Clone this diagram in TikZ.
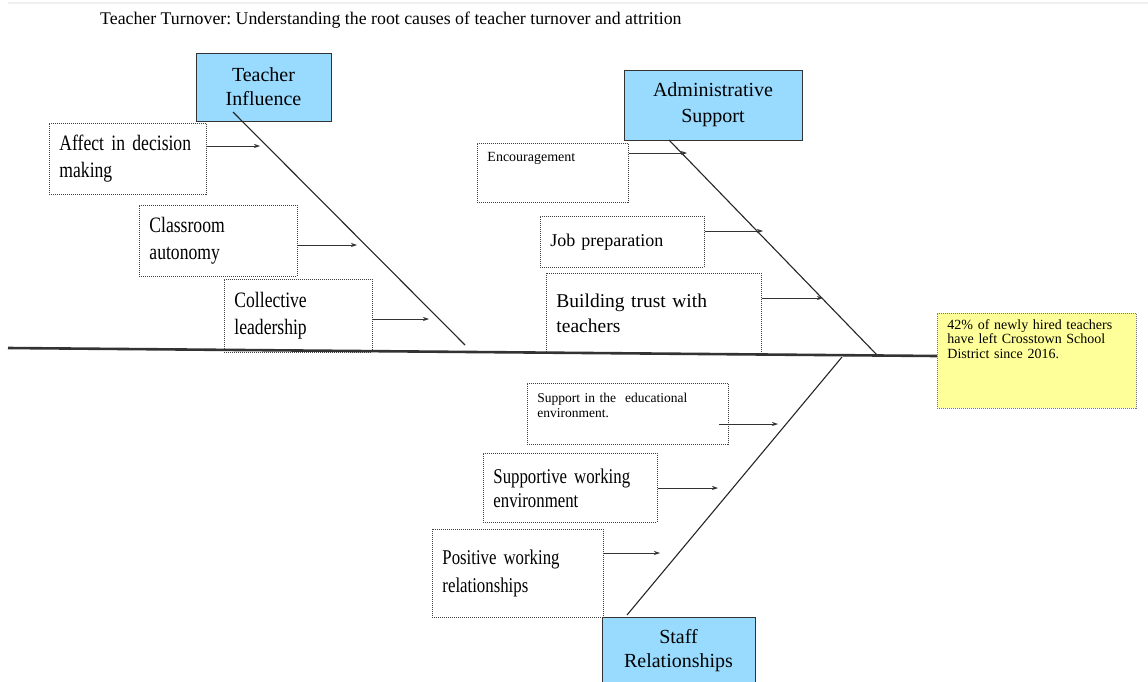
\documentclass[tikz,border=0pt]{standalone}
\usepackage{fontspec}
\setmainfont{Liberation Serif}
\newfontfamily\narrowserif[FakeStretch=0.8]{Liberation Serif}
\usepackage{xcolor}
\usetikzlibrary{arrows.meta}
\definecolor{headblue}{RGB}{153,219,255}
\definecolor{effectyellow}{RGB}{255,255,153}
\tikzset{>={Stealth[length=6pt,width=4pt]}}
\frenchspacing

\begin{document}
\begin{tikzpicture}[x=1pt,y=-1pt,
                    headbox/.style={draw=black!80, fill=headblue, line width=1pt, align=center, inner sep=0pt},
                    causebox/.style={draw=black!75, dash pattern=on 1pt off 1pt, line width=0.9pt, align=left,
                                     inner xsep=10pt, inner ysep=4pt, anchor=north west},
                    bigcause/.style={font=\narrowserif\fontsize{22}{27}\selectfont},
                    bone/.style={line width=1.1pt, black!85},
                    spine/.style={line width=2.6pt, black!80},
                    cause/.style={->, line width=0.7pt, black!80},
                   ]

\fill[white] (0,0) rectangle (1148,681);
\useasboundingbox (0,0) rectangle (1148,681);
\clip (0,0) rectangle (1148,681);
\draw[black!6, line width=1.5pt] (8,3) -- (1148,3);

\node[anchor=base west, inner sep=0pt, font=\fontsize{17.8}{20}\selectfont] (title) at (100,24)
  {Teacher Turnover: Understanding the root causes of teacher turnover and attrition};

% heads of the bones
\node[headbox, minimum width=135, minimum height=68, font=\fontsize{20}{24}\selectfont] (ti) at (263.5,87) {Teacher\\Influence};
\node[headbox, minimum width=178, minimum height=70, font=\fontsize{20}{26}\selectfont] (as) at (713,105) {Administrative\\Support};
\node[headbox, minimum width=153, minimum height=68, font=\fontsize{20}{24}\selectfont] (sr) at (678.5,651) {Staff\\Relationships};

% the problem
\node[causebox, fill=effectyellow, draw=black!55, text width=179, text height=12, text depth=75,
      font=\fontsize{14}{14.5}\selectfont] (effect) at (937,313)
  {42\% of newly hired teachers\\have left Crosstown School\\District since 2016.};

% causes
\node[causebox, bigcause, text width=137, minimum height=71] (aff) at (49,123) {Affect in decision\\making};
\node[causebox, bigcause, text width=138, minimum height=71] (cls) at (139,205) {Classroom\\autonomy};
\node[causebox, bigcause, text width=128, minimum height=73] (col) at (224,279) {Collective\\leadership};

\node[causebox, text width=131, text height=14, text depth=37, font=\fontsize{14}{16}\selectfont] (enc) at (477,143) {Encouragement};
\node[causebox, text width=144, minimum height=51, font=\fontsize{18}{22}\selectfont] (job) at (540,216) {Job preparation};
\node[causebox, text width=195, minimum height=80, font=\fontsize{19.5}{25}\selectfont] (bld) at (546,273) {Building trust with\\teachers};

\node[causebox, text width=181, text height=15, text depth=38, font=\fontsize{13.5}{15}\selectfont] (sup) at (527,383)
  {Support in the~ educational\\environment.};
\node[causebox, text width=154, minimum height=69, font=\narrowserif\fontsize{21}{24}\selectfont] (swe) at (483,453) {Supportive working\\environment};
\node[causebox, text width=151, minimum height=88, font=\narrowserif\fontsize{21}{28}\selectfont] (pwr) at (432,529) {Positive working\\relationships};

% bones and spine
\coordinate (tail) at (8,348);
\coordinate (head) at (937,356);
\coordinate (ti-top) at (233,112);
\coordinate (ti-foot) at (465,345);
\coordinate (as-top) at (669,140);
\coordinate (as-foot) at (877,355);
\coordinate (sr-top) at (627,615);
\coordinate (sr-foot) at (842,357);

\draw[bone] (ti-top) -- (ti-foot);
\draw[bone] (as-top) -- (as-foot);
\draw[bone] (sr-top) -- (sr-foot);
\draw[spine] (tail) -- (head);

% arrow tips
\coordinate (aff-tip) at (260,146);
\coordinate (cls-tip) at (357,245);
\coordinate (col-tip) at (429,319);
\coordinate (enc-tip) at (687,153);
\coordinate (job-tip) at (763,231);
\coordinate (bld-tip) at (823,298);
\coordinate (sup-tip) at (778,424);
\coordinate (swe-tip) at (718,488);
\coordinate (pwr-tip) at (660,553);
\coordinate (sup-tail) at (719,424);

\foreach \c in {aff,cls,col,enc,job,bld,swe,pwr}
  \draw[cause] (\c.east |- \c-tip) -- (\c-tip);
\draw[cause] (sup-tail) -- (sup-tip);

\end{tikzpicture}
\end{document}
